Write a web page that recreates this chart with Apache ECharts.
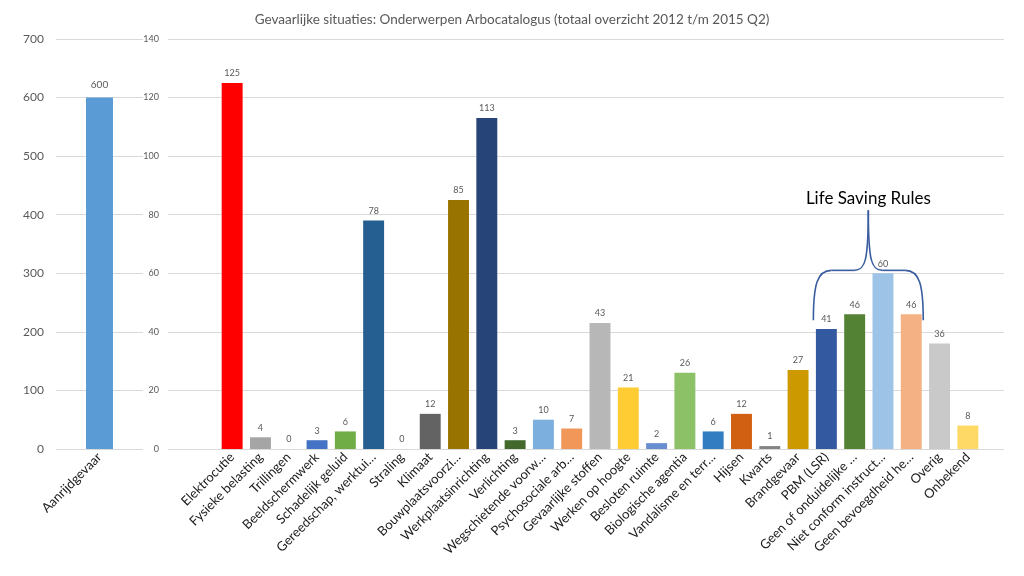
<!DOCTYPE html>
<html>
<head>
<meta charset="utf-8">
<script src="https://cdn.jsdelivr.net/npm/echarts@6/dist/echarts.min.js"></script>
<style>html,body{margin:0;padding:0;background:#fff}#c{width:1024px;height:576px}</style>
</head>
<body>
<div id="c"></div>
<script>
const titleText = 'Gevaarlijke situaties: Onderwerpen Arbocatalogus (totaal overzicht 2012 t/m 2015 Q2)';
const leftCategories = ['Aanrijdgevaar'];
const leftValues = [600];
const leftColors = ['#5B9BD5'];
const categories = ['Elektrocutie','Fysieke belasting','Trillingen','Beeldschermwerk','Schadelijk geluid','Gereedschap, werktui…','Straling','Klimaat','Bouwplaatsvoorzi…','Werkplaatsinrichting','Verlichting','Wegschietende voorw…','Psychosociale arb…','Gevaarlijke stoffen','Werken op hoogte','Besloten ruimte','Biologische agentia','Vandalisme en terr…','Hijsen','Kwarts','Brandgevaar','PBM (LSR)','Geen of onduidelijke …','Niet conform instruct…','Geen bevoegdheid he…','Overig','Onbekend'];
const values = [125,4,0,3,6,78,0,12,85,113,3,10,7,43,21,2,26,6,12,1,27,41,46,60,46,36,8];
const colors = ['#FF0000','#A5A5A5','#A5A5A5','#4472C4','#70AD47','#255E91','#636363','#636363','#997300','#264478','#43682B','#7CAFDD','#F1975A','#B7B7B7','#FFCD33','#698ED0','#8CC168','#327DC2','#D26012','#848484','#CC9A00','#335AA1','#548235','#9DC3E6','#F4B183','#C9C9C9','#FFD966'];
const leftTicks = {min:0, max:700, interval:100};
const rightTicks = {min:0, max:140, interval:20};
const lsrFirst = 'PBM (LSR)', lsrLast = 'Geen bevoegdheid he…';
const lsrText = 'Life Saving Rules';

const FONT = 'Lato, "Open Sans", sans-serif';
const GRID = '#D9D9D9';
const chart = echarts.init(document.getElementById('c'), null, {renderer:'canvas'});
const catLabel = {rotate:45, fontSize:13, color:'#1a1a1a', fontFamily:FONT, margin:6, interval:0};
chart.setOption({
  animation:false,
  title:{text:titleText, left:'center', top:8, textStyle:{fontSize:13.5, fontWeight:'normal', color:'#595959', fontFamily:FONT}},
  grid:[
    {left:56, width:87, top:39, bottom:127},
    {left:168, right:20, top:39, bottom:127},
    {left:218, right:42, top:39, bottom:127}
  ],
  xAxis:[
    {gridIndex:0, type:'category', data:leftCategories, axisLine:{show:false}, axisTick:{show:false}, axisLabel:catLabel},
    {gridIndex:1, type:'value', min:0, max:1, show:false},
    {gridIndex:2, type:'category', data:categories, axisLine:{show:false}, axisTick:{show:false}, axisLabel:catLabel}
  ],
  yAxis:[
    {gridIndex:0, type:'value', min:leftTicks.min, max:leftTicks.max, interval:leftTicks.interval, axisLine:{show:false}, axisTick:{show:false}, axisLabel:{fontSize:12, color:'#595959', margin:12, fontFamily:FONT}, splitLine:{lineStyle:{color:GRID}}},
    {gridIndex:1, type:'value', min:rightTicks.min, max:rightTicks.max, interval:rightTicks.interval, axisLine:{show:false}, axisTick:{show:false}, axisLabel:{fontSize:9, color:'#595959', margin:9, fontFamily:FONT}, splitLine:{lineStyle:{color:GRID}}},
    {gridIndex:2, type:'value', min:rightTicks.min, max:rightTicks.max, interval:rightTicks.interval, show:false, splitLine:{show:false}}
  ],
  series:[
    {type:'bar', xAxisIndex:0, yAxisIndex:0, barWidth:'31%',
     data:leftValues.map((v,i)=>({value:v, itemStyle:{color:leftColors[i]}})),
     label:{show:true, position:'top', distance:8, fontSize:10, color:'#595959', fontFamily:FONT}},
    {type:'bar', xAxisIndex:2, yAxisIndex:2, barWidth:'74%',
     data:values.map((v,i)=>({value:v, itemStyle:{color:colors[i]}})),
     label:{show:true, position:'top', distance:5, fontSize:9, color:'#595959', fontFamily:FONT}}
  ]
});

// Life Saving Rules brace annotation, positioned via the axes
const i0 = categories.indexOf(lsrFirst), i1 = categories.indexOf(lsrLast);
const p0 = chart.convertToPixel({xAxisIndex:2, yAxisIndex:2}, [i0, 44]);
const p1 = chart.convertToPixel({xAxisIndex:2, yAxisIndex:2}, [i1, 44]);
const yMid = chart.convertToPixel({yAxisIndex:2}, 61);
const yTop = chart.convertToPixel({yAxisIndex:2}, 81.5);
const yText = chart.convertToPixel({yAxisIndex:2}, 85.5);
const xl = p0[0] - 13, xr = p1[0] + 12, yb = p0[1];
const xc = (xl + xr) / 2;
const ls = {stroke:'#3A5DA0', lineWidth:1.6, fill:null};
function bez(x1,y1,c1x,c1y,c2x,c2y,x2,y2){
  return {type:'bezierCurve', shape:{x1:x1,y1:y1,cpx1:c1x,cpy1:c1y,cpx2:c2x,cpy2:c2y,x2:x2,y2:y2}, style:ls};
}
function ln(x1,y1,x2,y2){ return {type:'line', shape:{x1:x1,y1:y1,x2:x2,y2:y2}, style:ls}; }
chart.setOption({graphic:[
  bez(xl,yb, xl,yMid+14, xl+4,yMid, xl+18,yMid),
  ln(xl+18,yMid, xc-14,yMid),
  bez(xc-14,yMid, xc-3,yMid, xc,yMid-10, xc,yTop),
  bez(xc,yTop, xc,yMid-10, xc+3,yMid, xc+14,yMid),
  ln(xc+14,yMid, xr-18,yMid),
  bez(xr-18,yMid, xr-4,yMid, xr,yMid+14, xr,yb),
  {type:'text', x:xc, y:yText, style:{text:lsrText, fontSize:17, fill:'#000', fontFamily:FONT, align:'center', verticalAlign:'middle'}}
]});
</script>
</body>
</html>
